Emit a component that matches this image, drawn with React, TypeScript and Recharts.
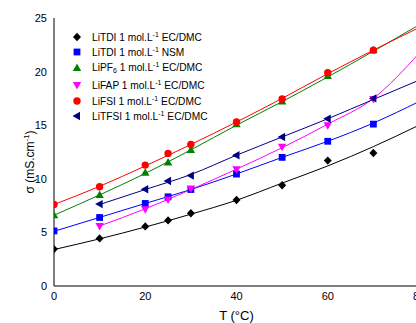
import React from 'react';
import { LineChart, Line, XAxis, YAxis, Legend, Label } from 'recharts';

// ---- data ----
const tempsAll = [0, 10, 20, 25, 30, 40, 50, 60, 70];
const tempsFrom10 = [10, 20, 25, 30, 40, 50, 60, 70];
const fitTempsAll = [0, 10, 20, 30, 40, 50, 60, 70, 80];
const fitTempsFrom10 = [10, 20, 30, 40, 50, 60, 70, 80];

const litdiEcPts = [3.44, 4.44, 5.56, 6.12, 6.78, 8.02, 9.4, 11.7, 12.4];
const litdiNsmPts = [5.14, 6.39, 7.7, 8.32, 9.0, 10.44, 12.0, 13.5, 15.1];
const lipf6Pts = [6.6, 8.5, 10.56, 11.53, 12.68, 15.1, 17.2, 19.6, 22.0];
const lifapPts = [5.6, 7.15, 8.07, 9.1, 10.9, 13.0, 15.0, 17.45];
const lifsiPts = [7.6, 9.26, 11.28, 12.37, 13.2, 15.3, 17.45, 19.9, 22.0];
const litfsiPts = [7.64, 9.02, 9.8, 10.3, 12.2, 13.9, 15.6, 17.5];

const litdiEcFit = [3.4, 4.4, 5.5, 6.7, 8.0, 9.6, 11.2, 13.0, 15.0];
const litdiNsmFit = [5.1, 6.4, 7.7, 9.0, 10.45, 12.0, 13.5, 15.2, 17.2];
const lipf6Fit = [6.6, 8.5, 10.5, 12.7, 15.0, 17.2, 19.5, 21.9, 24.35];
const lifapFit = [5.6, 7.2, 9.0, 10.9, 12.9, 15.1, 17.5, 21.7];
const lifsiFit = [7.6, 9.3, 11.2, 13.2, 15.3, 17.5, 19.8, 22.0, 24.1];
const litfsiFit = [7.6, 9.0, 10.4, 12.2, 13.9, 15.6, 17.4, 19.2];

const saltNames = ['LiTDI', 'LiTDI', 'LiPF', 'LiFAP', 'LiFSI', 'LiTFSI'];
const saltSubs = ['', '', '6', '', '', ''];
const solvents = ['EC/DMC', 'NSM', 'EC/DMC', 'EC/DMC', 'EC/DMC', 'EC/DMC'];

const xMajorTicks = [0, 20, 40, 60, 80];
const xMinorTicks = [10, 30, 50, 70];
const xTopTicks = [0, 10, 20, 30, 40, 50, 60, 70, 80];
const yMajorTicks = [0, 5, 10, 15, 20, 25];
const yMinorTicks = [2.5, 7.5, 12.5, 17.5, 22.5];

// ---- helpers ----
const zip = (ts: number[], vs: number[]) => ts.map((T, i) => ({ T, v: vs[i] }));

type Shape = 'diamond' | 'square' | 'up' | 'down' | 'circle' | 'left';

const series = [
  { color: '#000000', shape: 'diamond' as Shape, pts: zip(tempsAll, litdiEcPts), fit: zip(fitTempsAll, litdiEcFit) },
  { color: '#0000ff', shape: 'square' as Shape, pts: zip(tempsAll, litdiNsmPts), fit: zip(fitTempsAll, litdiNsmFit) },
  { color: '#008000', shape: 'up' as Shape, pts: zip(tempsAll, lipf6Pts), fit: zip(fitTempsAll, lipf6Fit) },
  { color: '#ff00ff', shape: 'down' as Shape, pts: zip(tempsFrom10, lifapPts), fit: zip(fitTempsFrom10, lifapFit) },
  { color: '#ff0000', shape: 'circle' as Shape, pts: zip(tempsAll, lifsiPts), fit: zip(fitTempsAll, lifsiFit) },
  { color: '#000080', shape: 'left' as Shape, pts: zip(tempsFrom10, litfsiPts), fit: zip(fitTempsFrom10, litfsiFit) },
];

function Marker({ shape, cx, cy, color }: { shape: Shape; cx: number; cy: number; color: string }) {
  switch (shape) {
    case 'diamond':
      return <polygon points={`${cx},${cy - 4.2} ${cx + 4},${cy} ${cx},${cy + 4.2} ${cx - 4},${cy}`} fill={color} />;
    case 'square':
      return <rect x={cx - 3.4} y={cy - 3.4} width={6.8} height={6.8} fill={color} />;
    case 'up':
      return <polygon points={`${cx},${cy - 4.5} ${cx + 4.2},${cy + 3} ${cx - 4.2},${cy + 3}`} fill={color} />;
    case 'down':
      return <polygon points={`${cx},${cy + 4.5} ${cx + 4.2},${cy - 3} ${cx - 4.2},${cy - 3}`} fill={color} />;
    case 'circle':
      return <circle cx={cx} cy={cy} r={3.7} fill={color} />;
    case 'left':
      return <polygon points={`${cx - 4.5},${cy} ${cx + 3},${cy - 4.2} ${cx + 3},${cy + 4.2}`} fill={color} />;
  }
  return null;
}

const FONT = '"Liberation Sans", Arial, Helvetica, sans-serif';

const LegendBox = () => (
  <div style={{ fontFamily: FONT, fontSize: 10.2, color: '#000', paddingTop: 9 }}>
    {series.map((s, i) => (
      <div
        key={i}
        style={{ display: 'flex', alignItems: 'center', height: 15.5, marginBottom: i === 2 ? 2 : 0, whiteSpace: 'nowrap' }}
      >
        <svg width={12} height={12} style={{ marginLeft: 12, marginRight: 9, overflow: 'visible' }}>
          <Marker shape={s.shape} cx={6} cy={6} color={s.color} />
        </svg>
        <span>
          {saltNames[i]}
          {saltSubs[i] ? <sub style={{ fontSize: 7, verticalAlign: -2 }}>{saltSubs[i]}</sub> : null}
          {' 1 mol.L'}
          <sup style={{ fontSize: 7, verticalAlign: 4 }}>-1</sup>
          {' ' + solvents[i]}
        </span>
      </div>
    ))}
  </div>
);

const YLabel = (props: any) => {
  const vb = props.viewBox || { y: 18, height: 268 };
  const cy = vb.y + vb.height / 2 + 10;
  return (
    <text
      transform={`translate(33.5, ${cy}) rotate(-90)`}
      textAnchor="middle"
      fontFamily={FONT}
      fontSize={12}
      fill="#000"
    >
      σ (mS.cm
      <tspan dy={-5} fontSize={8}>-1</tspan>
      <tspan dy={5}>)</tspan>
    </text>
  );
};

const XLabel = (props: any) => {
  const vb = props.viewBox || { x: 54, y: 286, width: 365 };
  return (
    <text x={vb.x + vb.width / 2} y={vb.y + 34} textAnchor="middle" fontFamily={FONT} fontSize={13} fill="#000">
      T (°C)
    </text>
  );
};

const tickStyle = { fontFamily: FONT, fontSize: 11, fill: '#000' };
const axisLine = { stroke: '#000', strokeWidth: 1 };
const tickLine = { stroke: '#000', strokeWidth: 1 };

export default function App() {
  return (
    <div style={{ position: 'fixed', left: 0, top: 0, width: 416, height: 323, overflow: 'hidden', background: '#fff' }}>
      <LineChart width={440} height={323} margin={{ top: 18, right: 21, bottom: 7, left: 0 }}>
        <XAxis
          xAxisId="main"
          type="number"
          dataKey="T"
          domain={[0, 80]}
          ticks={xMajorTicks}
          allowDataOverflow
          tickLine={false}
          tickSize={0}
          tickMargin={6.5}
          axisLine={axisLine}
          tick={tickStyle}
          height={30}
        >
          <Label content={XLabel} />
        </XAxis>
        <XAxis xAxisId="bMajor" type="number" domain={[0, 80]} ticks={xMajorTicks} allowDataOverflow mirror height={0} tick={false} tickSize={4.5} tickLine={tickLine} axisLine={false} />
        <XAxis xAxisId="bMinor" type="number" domain={[0, 80]} ticks={xMinorTicks} allowDataOverflow mirror height={0} tick={false} tickSize={2.5} tickLine={tickLine} axisLine={false} />
        <XAxis xAxisId="top" orientation="top" type="number" domain={[0, 80]} ticks={xTopTicks} allowDataOverflow mirror height={0} tick={false} tickSize={4} tickLine={tickLine} axisLine={axisLine} />

        <YAxis
          yAxisId="main"
          type="number"
          domain={[0, 25]}
          ticks={yMajorTicks}
          allowDataOverflow
          width={54}
          tickLine={false}
          tickSize={0}
          tickMargin={7}
          axisLine={axisLine}
          tick={tickStyle}
        >
          <Label content={YLabel} />
        </YAxis>
        <YAxis yAxisId="lMajor" type="number" domain={[0, 25]} ticks={yMajorTicks} allowDataOverflow mirror width={0} tick={false} tickSize={4.5} tickLine={tickLine} axisLine={false} />
        <YAxis yAxisId="lMinor" type="number" domain={[0, 25]} ticks={yMinorTicks} allowDataOverflow mirror width={0} tick={false} tickSize={2.5} tickLine={tickLine} axisLine={false} />
        <YAxis yAxisId="rMajor" orientation="right" type="number" domain={[0, 25]} ticks={yMajorTicks} allowDataOverflow mirror width={0} tick={false} tickSize={4.5} tickLine={tickLine} axisLine={axisLine} />
        <YAxis yAxisId="rMinor" orientation="right" type="number" domain={[0, 25]} ticks={yMinorTicks} allowDataOverflow mirror width={0} tick={false} tickSize={2.5} tickLine={tickLine} axisLine={false} />

        {series.map((s, i) => (
          <Line
            key={`fit${i}`}
            xAxisId="main"
            yAxisId="main"
            data={s.fit}
            dataKey="v"
            type="monotone"
            stroke={s.color}
            strokeWidth={1}
            dot={false}
            activeDot={false}
            legendType="none"
            isAnimationActive={false}
          />
        ))}
        {series.map((s, i) => (
          <Line
            key={`pts${i}`}
            xAxisId="main"
            yAxisId="main"
            data={s.pts}
            dataKey="v"
            stroke="none"
            strokeWidth={0}
            dot={(p: any) => <Marker key={`m${i}-${p.index}`} shape={s.shape} cx={p.cx} cy={p.cy} color={s.color} />}
            activeDot={false}
            legendType="none"
            isAnimationActive={false}
          />
        ))}

        <Legend
          layout="vertical"
          align="center"
          verticalAlign="middle"
          wrapperStyle={{ left: 59, top: 20, width: 160, height: 104 }}
          content={LegendBox}
        />
      </LineChart>
    </div>
  );
}
